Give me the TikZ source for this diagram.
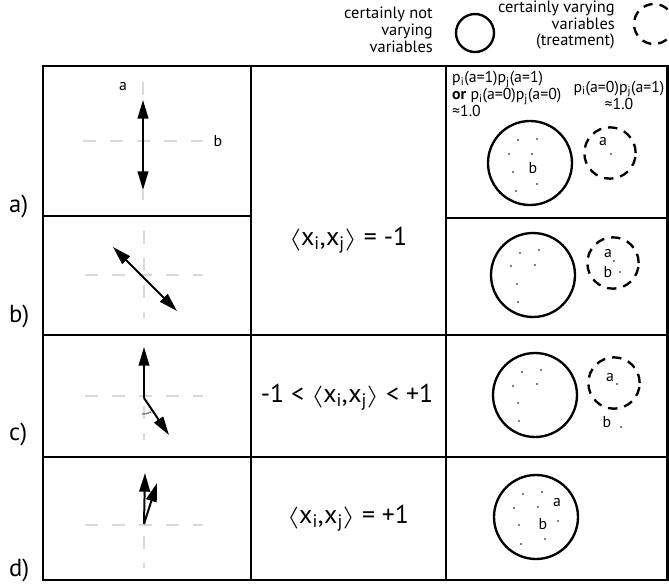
\documentclass[tikz,border=0pt]{standalone}
\usepackage{fontspec}
\usepackage{graphicx}
\setmainfont{PT Sans}
\usetikzlibrary{arrows.meta}
\definecolor{ink}{HTML}{000000}
\definecolor{guide}{HTML}{D9D9D9}
\definecolor{anglemark}{HTML}{808080}
\newcommand{\lbrak}{\scalebox{1.3}[0.9]{$\langle$}}
\newcommand{\rbrak}{\scalebox{1.3}[0.9]{$\rangle$}}

\begin{document}
\begin{tikzpicture}[
  x=0.03cm,
  y=-0.03cm,
  rule/.style={ink,line width=2.2pt},
  guideline/.style={guide,line width=1.6pt,dash pattern=on 11pt off 12pt},
  vec/.style={ink,line width=1.7pt,-{Triangle[length=5.6mm,width=3.2mm]}},
  dvec/.style={ink,line width=1.7pt,{Triangle[length=5.6mm,width=3.2mm]}-{Triangle[length=5.6mm,width=3.2mm]}},
  fixedpool/.style={ink,line width=2pt},
  treatpool/.style={ink,line width=2pt,dash pattern=on 8pt off 6pt},
  small/.style={font=\fontsize{13.5}{14.5}\selectfont,inner sep=0pt},
  legtext/.style={font=\fontsize{14}{14.5}\selectfont,inner sep=0pt,align=right,anchor=east},
  rowlabel/.style={font=\fontsize{21}{23}\selectfont,anchor=west,inner sep=0pt},
  corr/.style={font=\fontsize{22}{24}\selectfont,inner sep=0pt}
]
  \useasboundingbox (0,0) rectangle (669,583);

  % legend
  \node[legtext] (leg-fixed) at (433,30) {certainly not\\varying\\variables};
  \draw[fixedpool] (475,33) circle[radius=0.57cm];
  \node[legtext] (leg-treat) at (615,25) {certainly varying\\variables\\(treatment)};
  \draw[treatpool] (654,24) circle[radius=0.6cm];

  % table
  \draw[rule] (43,66) rectangle (667.5,580);
  \draw[rule] (251,66) -- (251,580);
  \draw[rule] (446,66) -- (446,580);
  \draw[rule] (43,216) -- (251,216);
  \draw[rule] (446,218) -- (667.5,218);
  \draw[rule] (43,335) -- (667.5,335);
  \draw[rule] (43,457) -- (667.5,457);

  % row labels
  \node[rowlabel] (lab-a) at (9,206) {a)};
  \node[rowlabel] (lab-b) at (9,316) {b)};
  \node[rowlabel] (lab-c) at (9,434) {c)};
  \node[rowlabel] (lab-d) at (9,570) {d)};

  % correlation values
  \node[corr] (corr-ab) at (348,240) {\lbrak x\textsubscript{i},x\textsubscript{j}\rbrak\ = -1};
  \node[corr] (corr-c) at (347,397) {-1 < \lbrak x\textsubscript{i},x\textsubscript{j}\rbrak\ < +1};
  \node[corr] (corr-d) at (348,518) {\lbrak x\textsubscript{i},x\textsubscript{j}\rbrak\ = +1};

  % row a: vectors
  \draw[guideline] (83,141) -- (203,141);
  \draw[guideline] (143,82) -- (143,200);
  \node[small] (axis-a) at (123,87) {a};
  \node[small] (axis-b) at (218,141) {b};
  \coordinate (a-top) at (143,100);
  \coordinate (a-bot) at (143,190);
  \draw[dvec] (a-top) -- (a-bot);

  % row b: vectors
  \draw[guideline] (85,275) -- (203,275);
  \draw[guideline] (144,231) -- (144,318);
  \coordinate (b-top) at (113,247);
  \coordinate (b-bot) at (177,311);
  \draw[dvec] (b-top) -- (b-bot);

  % row c: vectors
  \draw[guideline] (85,396) -- (203,396);
  \draw[guideline] (144,352) -- (144,440);
  \coordinate (c-o) at (144,398);
  \coordinate (c-up) at (144,347);
  \coordinate (c-dn) at (169,435);
  \draw[anglemark,line width=1.2pt] (142,414) arc[start angle=-95,end angle=-58,radius=0.45cm];
  \draw[vec] (c-o) -- (c-up);
  \draw[vec] (c-o) -- (c-dn);

  % row d: vectors
  \draw[guideline] (85,525) -- (203,525);
  \draw[guideline] (144,482) -- (144,568);
  \coordinate (d-o) at (144,524);
  \coordinate (d-up) at (145,473);
  \coordinate (d-tilt) at (157,483);
  \draw[vec] (d-o) -- (d-up);
  \draw[vec] (d-o) -- (d-tilt);

  % row a: pools
  \node[small,anchor=west,align=left] (prob-same) at (452,94)
    {p\textsubscript{i}(a=1)p\textsubscript{j}(a=1)\\\textbf{or} p\textsubscript{i}(a=0)p\textsubscript{j}(a=0)\\≈1.0};
  \node[small,align=center] (prob-diff) at (619,95)
    {p\textsubscript{i}(a=0)p\textsubscript{j}(a=1)\\≈1.0};
  \draw[fixedpool] (530,163) circle[radius=1.26cm];
  \foreach \x/\y in {518/140,537/139,509/154,532/154,513/172,537/184,516/191}
    \fill[ink] (\x,\y) circle[radius=0.7pt];
  \node[small] (pa-b) at (533,168) {b};
  \draw[treatpool] (610,153) circle[radius=0.77cm];
  \fill[ink] (611,154) circle[radius=0.7pt];
  \node[small] (pa-a) at (603,142) {a};

  % row b: pools
  \draw[fixedpool] (533,275) circle[radius=1.26cm];
  \foreach \x/\y in {520/253,539/250,511/266,535/265,517/284,518/302}
    \fill[ink] (\x,\y) circle[radius=0.7pt];
  \draw[treatpool] (613,263) circle[radius=0.77cm];
  \fill[ink] (614,261) circle[radius=0.7pt];
  \fill[ink] (620,272) circle[radius=0.7pt];
  \node[small] (pb-a) at (608,254) {a};
  \node[small] (pb-b) at (608,272) {b};

  % row c: pools
  \draw[fixedpool] (535,395) circle[radius=1.26cm];
  \foreach \x/\y in {522/372,541/370,513/386,537/384,518/403,519/421}
    \fill[ink] (\x,\y) circle[radius=0.7pt];
  \draw[treatpool] (614,383) circle[radius=0.77cm];
  \fill[ink] (617,384) circle[radius=0.7pt];
  \fill[ink] (621,427) circle[radius=0.7pt];
  \node[small] (pc-a) at (610,378) {a};
  \node[small] (pc-b) at (607,422) {b};

  % row d: pools
  \draw[fixedpool] (536,517) circle[radius=1.26cm];
  \foreach \x/\y in {523/494,542/492,514/508,538/507,519/525,521/544,558/521,545/539}
    \fill[ink] (\x,\y) circle[radius=0.7pt];
  \node[small] (pd-a) at (557,503) {a};
  \node[small] (pd-b) at (543,524) {b};
\end{tikzpicture}
\end{document}
